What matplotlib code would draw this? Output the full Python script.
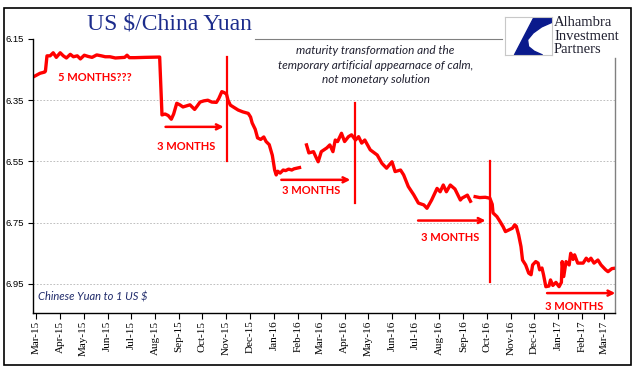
import numpy as np
import matplotlib
matplotlib.use("Agg")
import matplotlib.pyplot as plt
import matplotlib.dates as mdates
from matplotlib.patches import Polygon, Rectangle

# 数据：美元兑人民币，None 表示断档
dates = [
    "2015-02-26", "2015-03-06", "2015-03-12", "2015-03-13", "2015-03-15", "2015-03-19",
    "2015-03-23", "2015-03-27", "2015-04-01", "2015-04-05", "2015-04-09", "2015-04-14",
    "2015-04-18", "2015-04-23", "2015-04-27", "2015-05-02", "2015-05-07", "2015-05-12",
    "2015-05-18", "2015-05-24", "2015-05-29", "2015-06-04", "2015-06-11", "2015-06-17",
    "2015-06-23", "2015-06-26", "2015-06-29", "2015-07-06", "2015-07-19", "2015-08-07",
    "2015-08-10", "2015-08-14", "2015-08-18", "2015-08-22", "2015-08-25", "2015-08-29",
    "2015-09-02", "2015-09-06", "2015-09-11", "2015-09-15", "2015-09-21", "2015-09-24",
    "2015-09-28", "2015-10-03", "2015-10-08", "2015-10-13", "2015-10-19", "2015-10-22",
    "2015-10-26", "2015-10-29", "2015-11-01", "2015-11-03", "2015-11-06", "2015-11-11",
    "2015-11-16", "2015-11-22", "2015-11-29", "2015-12-02", "2015-12-04", "2015-12-08",
    "2015-12-11", "2015-12-15", "2015-12-19", "2015-12-22", "2015-12-26", "2015-12-28",
    "2015-12-30", "2016-01-02", "2016-01-04", "2016-01-06", "2016-01-09", "2016-01-13",
    "2016-01-16", "2016-01-20", "2016-01-24", "2016-01-27", "2016-02-01", "2016-02-03",
    "2016-02-08",
    "2016-02-12", "2016-02-15", "2016-02-21", "2016-02-24", "2016-02-27", "2016-03-02",
    "2016-03-09", "2016-03-13", "2016-03-17", "2016-03-20", "2016-03-23", "2016-03-28",
    "2016-04-01", "2016-04-06", "2016-04-10", "2016-04-15", "2016-04-19", "2016-04-23",
    "2016-04-27", "2016-05-04", "2016-05-13", "2016-05-19", "2016-05-25", "2016-06-01",
    "2016-06-05", "2016-06-12", "2016-06-16", "2016-06-22", "2016-06-29", "2016-07-05",
    "2016-07-12", "2016-07-16", "2016-07-22", "2016-07-29", "2016-08-02", "2016-08-06",
    "2016-08-10", "2016-08-15", "2016-08-21", "2016-08-28", "2016-08-30", "2016-09-06",
    "2016-09-10", "2016-09-13",
    "2016-09-16", "2016-09-22", "2016-09-29", "2016-10-05", "2016-10-08", "2016-10-09",
    "2016-10-14", "2016-10-18", "2016-10-22", "2016-10-25", "2016-10-29", "2016-11-03",
    "2016-11-06", "2016-11-08", "2016-11-11", "2016-11-14", "2016-11-16", "2016-11-20",
    "2016-11-24", "2016-11-27", "2016-11-29", "2016-12-03", "2016-12-06", "2016-12-08",
    "2016-12-11", "2016-12-13", "2016-12-16", "2016-12-20", "2016-12-22", "2016-12-25",
    "2016-12-29", "2017-01-02", "2017-01-05", "2017-01-06", "2017-01-08", "2017-01-11",
    "2017-01-15", "2017-01-17", "2017-01-20", "2017-01-22", "2017-01-26", "2017-02-02",
    "2017-02-06", "2017-02-09", "2017-02-12", "2017-02-16", "2017-02-21", "2017-02-25",
    "2017-03-03", "2017-03-06", "2017-03-11", "2017-03-14",
]
cny = [
    6.273, 6.262, 6.258, 6.255, 6.205, 6.205,
    6.195, 6.210, 6.195, 6.205, 6.212, 6.200,
    6.208, 6.205, 6.215, 6.203, 6.207, 6.210,
    6.202, 6.205, 6.208, 6.208, 6.212, 6.211,
    6.210, 6.203, 6.211, 6.211, 6.210, 6.209,
    6.398, 6.395, 6.400, 6.412, 6.395, 6.360,
    6.365, 6.372, 6.368, 6.365, 6.380, 6.370,
    6.356, 6.352, 6.350, 6.356, 6.357, 6.345,
    6.322, 6.325, 6.330, 6.350, 6.366, 6.374,
    6.382, 6.388, 6.393, 6.405, 6.424, 6.445,
    6.473, 6.478, 6.470, 6.485, 6.495, 6.512,
    6.530, 6.578, 6.594, 6.582, 6.588, 6.578,
    6.580, 6.575, 6.578, 6.574, 6.571, 6.570,
    None,
    6.496, 6.522, 6.518, 6.535, 6.551, 6.518,
    6.506, 6.496, 6.518, 6.480, 6.485, 6.458,
    6.485, 6.469, 6.463, 6.480, 6.469, 6.490,
    6.480, 6.512, 6.529, 6.556, 6.572, 6.551,
    6.583, 6.578, 6.594, 6.632, 6.659, 6.686,
    6.692, 6.703, 6.676, 6.638, 6.649, 6.627,
    6.649, 6.627, 6.640, 6.676, 6.670, 6.660,
    6.680, None,
    6.665, 6.668, 6.667, 6.670, 6.690, 6.718,
    6.730, 6.746, 6.763, 6.779, 6.774, 6.768,
    6.757, 6.762, 6.790, 6.828, 6.872, 6.888,
    6.915, 6.920, 6.888, 6.877, 6.882, 6.904,
    6.898, 6.920, 6.959, 6.957, 6.937, 6.955,
    6.945, 6.959, 6.945, 6.877, 6.926, 6.877,
    6.888, 6.850, 6.870, 6.855, 6.882, 6.882,
    6.866, 6.875, 6.866, 6.882, 6.872, 6.888,
    6.904, 6.910, 6.900, 6.899,
]
yticks = [6.15, 6.35, 6.55, 6.75, 6.95]

# 标注：竖线 (日期, 上, 下)，箭头 (起, 止, y)，文字 (日期, y, 内容)
vlines = [("2015-11-02", 6.209, 6.55), ("2016-04-15", 6.36, 6.685), ("2016-10-05", 6.55, 6.943)]
arrows = [("2015-08-11", "2015-11-01", 6.437), ("2016-01-07", "2016-04-12", 6.61),
          ("2016-07-01", "2016-10-03", 6.743), ("2016-12-14", "2017-03-19", 6.98)]
labels = [("2015-05-16", 6.277, "5 MONTHS???"), ("2015-09-10", 6.50, "3 MONTHS"),
          ("2016-02-18", 6.646, "3 MONTHS"), ("2016-08-15", 6.80, "3 MONTHS"),
          ("2017-01-22", 7.024, "3 MONTHS")]

red = "#ff0000"
navy = "#1c2c8c"

x = np.array(dates, dtype="datetime64[D]")
y = np.array([np.nan if v is None else v for v in cny], dtype=float)

fig = plt.figure(figsize=(6.41, 3.81), dpi=100)
W, H = 641, 381
ax = fig.add_axes([33 / W, 1 - 313 / H, 582 / W, 274 / H])

ax.plot(x, y, color=red, lw=2.4, solid_joinstyle="round")

ax.set_ylim(7.045, 6.15)
ax.set_xlim(np.datetime64("2015-02-25"), np.datetime64("2017-03-15"))
ax.set_yticks(yticks)
ax.set_yticklabels(["%.2f" % v for v in yticks], family="Liberation Sans", fontsize=6.8)
for v in yticks[1:]:
    ax.axhline(v, color="#b4b4b4", lw=0.6, ls=(0, (2, 2)), zorder=0)

ax.xaxis.set_major_locator(mdates.MonthLocator())
ax.xaxis.set_major_formatter(mdates.DateFormatter("%b-%y"))
for t in ax.get_xticklabels():
    t.set_rotation(90)
    t.set_family("Liberation Serif")
    t.set_fontsize(8)
ax.tick_params(axis="x", length=4, pad=1.5, width=0.8)
ax.tick_params(axis="y", length=3.5, pad=3, width=0.8)

ax.spines["top"].set_visible(False)
ax.spines["right"].set_visible(False)
ax.spines["left"].set_linewidth(1.0)
ax.spines["bottom"].set_linewidth(1.0)
ax.plot([1, 1], [0, 0.93], transform=ax.transAxes, color="#808080", lw=1, clip_on=False)
ax.plot([0.381, 0.806], [1, 1], transform=ax.transAxes, color="#808080", lw=0.8, clip_on=False)

for d, y0, y1 in vlines:
    ax.plot([np.datetime64(d), np.datetime64(d)], [y0, y1], color=red, lw=1.6)
for d0, d1, yy in arrows:
    ax.annotate("", xy=(np.datetime64(d1), yy), xytext=(np.datetime64(d0), yy),
                arrowprops=dict(arrowstyle="->", color=red, lw=1.8, mutation_scale=9),
                annotation_clip=False)
for d, yy, s in labels:
    ax.text(np.datetime64(d), yy, s, color=red, fontsize=8, fontweight="bold",
            family="Lato", ha="center", va="center")

ax.text(np.datetime64("2016-05-11"), 6.235,
        "maturity transformation and the\ntemporary artificial appearnace of calm,\nnot monetary solution",
        fontsize=8.5, style="italic", family="Lato", color="#202030",
        ha="center", va="center", linespacing=1.35)
ax.text(0.008, 0.04, "Chinese Yuan to 1 US $", transform=ax.transAxes, fontsize=8,
        style="italic", family="Lato", color="#1f2a6a", ha="left", va="bottom")

# 标题
fig.text(169 / W, 1 - 24 / H, "US $/China Yuan", family="Liberation Serif",
         fontsize=17, color=navy, ha="center", va="center")

# 外框
fig.add_artist(Rectangle((4 / W, 1 - 365 / H), 627 / W, 357 / H, transform=fig.transFigure,
                         fill=False, edgecolor="black", lw=1.2))

# logo
lg = fig.add_axes([505 / W, 1 - 55 / H, 47 / W, 38 / H])
lg.set_xlim(0, 1)
lg.set_ylim(0, 1)
lg.set_xticks([])
lg.set_yticks([])
for s in lg.spines.values():
    s.set_edgecolor("#c8c8c8")
    s.set_linewidth(0.8)
shape = [(0.62, 1), (1, 1), (1, 0.86), (0.78, 0.74), (0.6, 0.58), (0.48, 0.4),
         (0.5, 0.22), (0.62, 0.1), (0.8, 0.0), (0.2, 0.0)]
lg.add_patch(Polygon(shape, closed=True, color="#0a1a8c"))
fig.text(554 / W, 1 - 36 / H, "Alhambra\nInvestment\nPartners", family="Liberation Serif",
         fontsize=10.5, color="#202030", ha="left", va="center", linespacing=1.02)

fig.savefig("out.png", dpi=100)
